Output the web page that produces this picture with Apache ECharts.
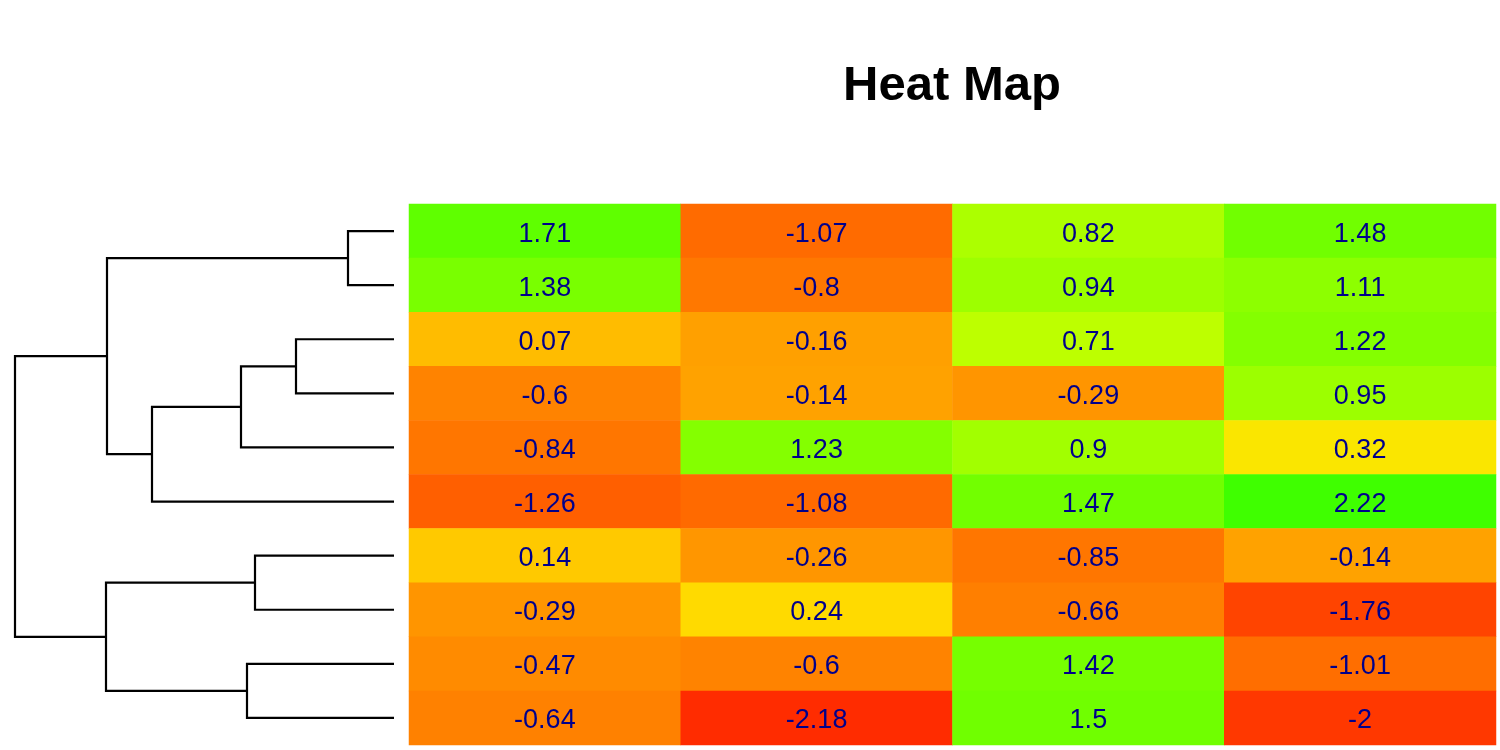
<!DOCTYPE html>
<html>
<head>
<meta charset="utf-8">
<title>Heat Map</title>
<script src="https://cdn.jsdelivr.net/npm/echarts@6/dist/echarts.min.js"></script>
<style>
  html, body { margin: 0; padding: 0; background: #ffffff; }
  #main { width: 1500px; height: 750px; }
</style>
</head>
<body>
<div id="main"></div>
<script>
// columns and rows of the heat map (rows from top to bottom)
var columns = ['1', '2', '3', '4'];
var rows = ['r1', 'r2', 'r3', 'r4', 'r5', 'r6', 'r7', 'r8', 'r9', 'r10'];

var col1 = [1.71, 1.38, 0.07, -0.6, -0.84, -1.26, 0.14, -0.29, -0.47, -0.64];
var col2 = [-1.07, -0.8, -0.16, -0.14, 1.23, -1.08, -0.26, 0.24, -0.6, -2.18];
var col3 = [0.82, 0.94, 0.71, -0.29, 0.9, 1.47, -0.85, -0.66, 1.42, 1.5];
var col4 = [1.48, 1.11, 1.22, 0.95, 0.32, 2.22, -0.14, -1.76, -1.01, -2];

// row dendrogram, hclust style: negative = leaf (row number), positive = earlier merge
var mergeA = [-1, -3, 2, 3, 1, -7, -9, 6, 5];
var mergeB = [-2, -4, -5, -6, 4, -8, -10, 7, 8];
var mergeHeight = [0.46, 0.98, 1.53, 2.42, 2.87, 1.39, 1.47, 2.88, 3.79];

// colour ramp, red -> yellow -> green
var palette = [
    '#ff1900', '#ff2700', '#ff3800', '#ff4400', '#ff5200', '#ff6000', '#ff6f00',
    '#ff7a00', '#ff8900', '#ff9700', '#ffb000', '#ffdc00', '#edff00', '#b4ff00',
    '#96ff00', '#82ff00', '#70ff00', '#5cff00', '#4dff00', '#3dff00', '#2eff00'
];

var cols = [col1, col2, col3, col4];
var heatData = [];
cols.forEach(function (c, ci) {
    c.forEach(function (v, ri) {
        heatData.push([ci, ri, v]);
    });
});

// node position: leaves sit at height 0 on their row, merges halfway between children
var nodeY = [];
function childPos(id) {
    if (id < 0) return [0, -id - 1];
    return [mergeHeight[id - 1], nodeY[id - 1]];
}
var dendroLines = [];
for (var i = 0; i < mergeA.length; i++) {
    var a = childPos(mergeA[i]);
    var b = childPos(mergeB[i]);
    var h = mergeHeight[i];
    nodeY.push((a[1] + b[1]) / 2);
    dendroLines.push({ coords: [a, [h, a[1]], [h, b[1]], b] });
}

var chart = echarts.init(document.getElementById('main'));

var option = {
    backgroundColor: '#ffffff',
    animation: false,
    title: {
        text: 'Heat Map',
        left: 952,
        top: 62,
        padding: 0,
        textAlign: 'center',
        textStyle: {
            fontFamily: 'Liberation Sans, Arial, sans-serif',
            fontSize: 49,
            fontWeight: 'bold',
            color: '#000000'
        }
    },
    grid: [
        { left: 409, right: 4, top: 204, bottom: 5 },
        { left: 15, width: 379, top: 204, bottom: 5 }
    ],
    xAxis: [
        { type: 'category', data: columns, gridIndex: 0, show: false },
        { type: 'value', gridIndex: 1, min: 0, max: 3.79, inverse: true, show: false }
    ],
    yAxis: [
        { type: 'category', data: rows, gridIndex: 0, inverse: true, show: false },
        { type: 'value', gridIndex: 1, min: -0.5, max: 9.5, inverse: true, show: false }
    ],
    visualMap: {
        show: false,
        type: 'continuous',
        seriesIndex: 0,
        min: -2.5,
        max: 2.5,
        inRange: { color: palette }
    },
    series: [
        {
            type: 'heatmap',
            xAxisIndex: 0,
            yAxisIndex: 0,
            data: heatData,
            label: {
                show: true,
                formatter: function (p) { return String(p.value[2]); },
                color: '#00008b',
                fontFamily: 'Liberation Sans, Arial, sans-serif',
                fontSize: 27,
                offset: [0, 3]
            },
            itemStyle: { borderWidth: 0 },
            emphasis: { disabled: true }
        },
        {
            type: 'lines',
            coordinateSystem: 'cartesian2d',
            xAxisIndex: 1,
            yAxisIndex: 1,
            polyline: true,
            data: dendroLines,
            lineStyle: { color: '#000000', width: 2.2, opacity: 1 },
            silent: true
        }
    ]
};

chart.setOption(option);
</script>
</body>
</html>
